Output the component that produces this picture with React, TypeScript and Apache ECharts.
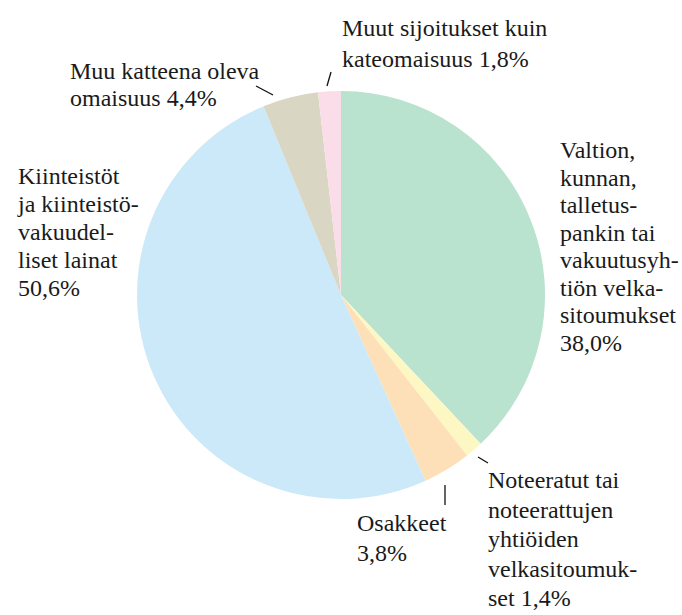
import React, { useEffect, useRef } from "react";
import * as echarts from "echarts";

const categories = [
  "Valtion,\nkunnan,\ntalletus-\npankin tai\nvakuutusyh-\ntiön velka-\nsitoumukset",
  "Noteeratut tai\nnoteerattujen\nyhtiöiden\nvelkasitoumuk-\nset",
  "Osakkeet",
  "Kiinteistöt\nja kiinteistö-\nvakuudel-\nliset lainat",
  "Muu katteena oleva\nomaisuus",
  "Muut sijoitukset kuin\nkateomaisuus",
];
const values = [38.0, 1.4, 3.8, 50.6, 4.4, 1.8];
const separators = ["\n", " ", "\n", "\n", " ", " "];

const colors = ["#b9e2cf", "#fdf8c3", "#fde0b7", "#cce9f9", "#d9d6c3", "#fbdde9"];
// label left x, first-line baseline y, line spacing
const labelPos = [
  [560, 157, 27.5],
  [488, 487, 29.5],
  [357, 530, 30],
  [18, 183, 28],
  [70, 78, 27],
  [342, 35, 30.5],
];
const leaderLines: (number[] | null)[] = [
  null,
  [478, 457, 488, 463],
  [445, 485, 445, 505],
  null,
  [256, 86, 273, 95],
  [327, 86, 331, 72],
];

const fmt = (v: number) => v.toFixed(1).replace(".", ",") + "%";
const FONT_SIZE = 24;
const FONT = FONT_SIZE + "px Liberation Serif, Times New Roman, serif";
const BASELINE_OFFSET = 19;

export default function App() {
  const ref = useRef<HTMLDivElement>(null);
  useEffect(() => {
    if (!ref.current) return;
    const chart = echarts.init(ref.current, undefined, { renderer: "svg" });
    const texts: any[] = [];
    categories.forEach((name, i) => {
      const full = name + separators[i] + fmt(values[i]);
      full.split("\n").forEach((line, k) => {
        texts.push({
          type: "text",
          left: labelPos[i][0],
          top: labelPos[i][1] + k * labelPos[i][2] - BASELINE_OFFSET,
          style: {
            text: line,
            font: FONT,
            fill: "#1a1a1a",
          },
        });
      });
    });
    const lines = leaderLines
      .filter((l) => l !== null)
      .map((l) => ({
        type: "line",
        shape: { x1: l![0], y1: l![1], x2: l![2], y2: l![3] },
        style: { stroke: "#111", lineWidth: 1.3 },
      }));
    chart.setOption({
      animation: false,
      textStyle: { fontFamily: "Liberation Serif" },
      series: [
        {
          type: "pie",
          center: [341, 295],
          radius: 204,
          startAngle: 90,
          clockwise: true,
          silent: true,
          label: { show: false },
          labelLine: { show: false },
          data: categories.map((name, i) => ({
            name,
            value: values[i],
            itemStyle: { color: colors[i] },
          })),
        },
      ],
      graphic: [...lines, ...texts],
    });
    return () => chart.dispose();
  }, []);
  return (
    <div
      ref={ref}
      style={{ position: "absolute", left: 0, top: 0, width: 682, height: 615 }}
    />
  );
}
